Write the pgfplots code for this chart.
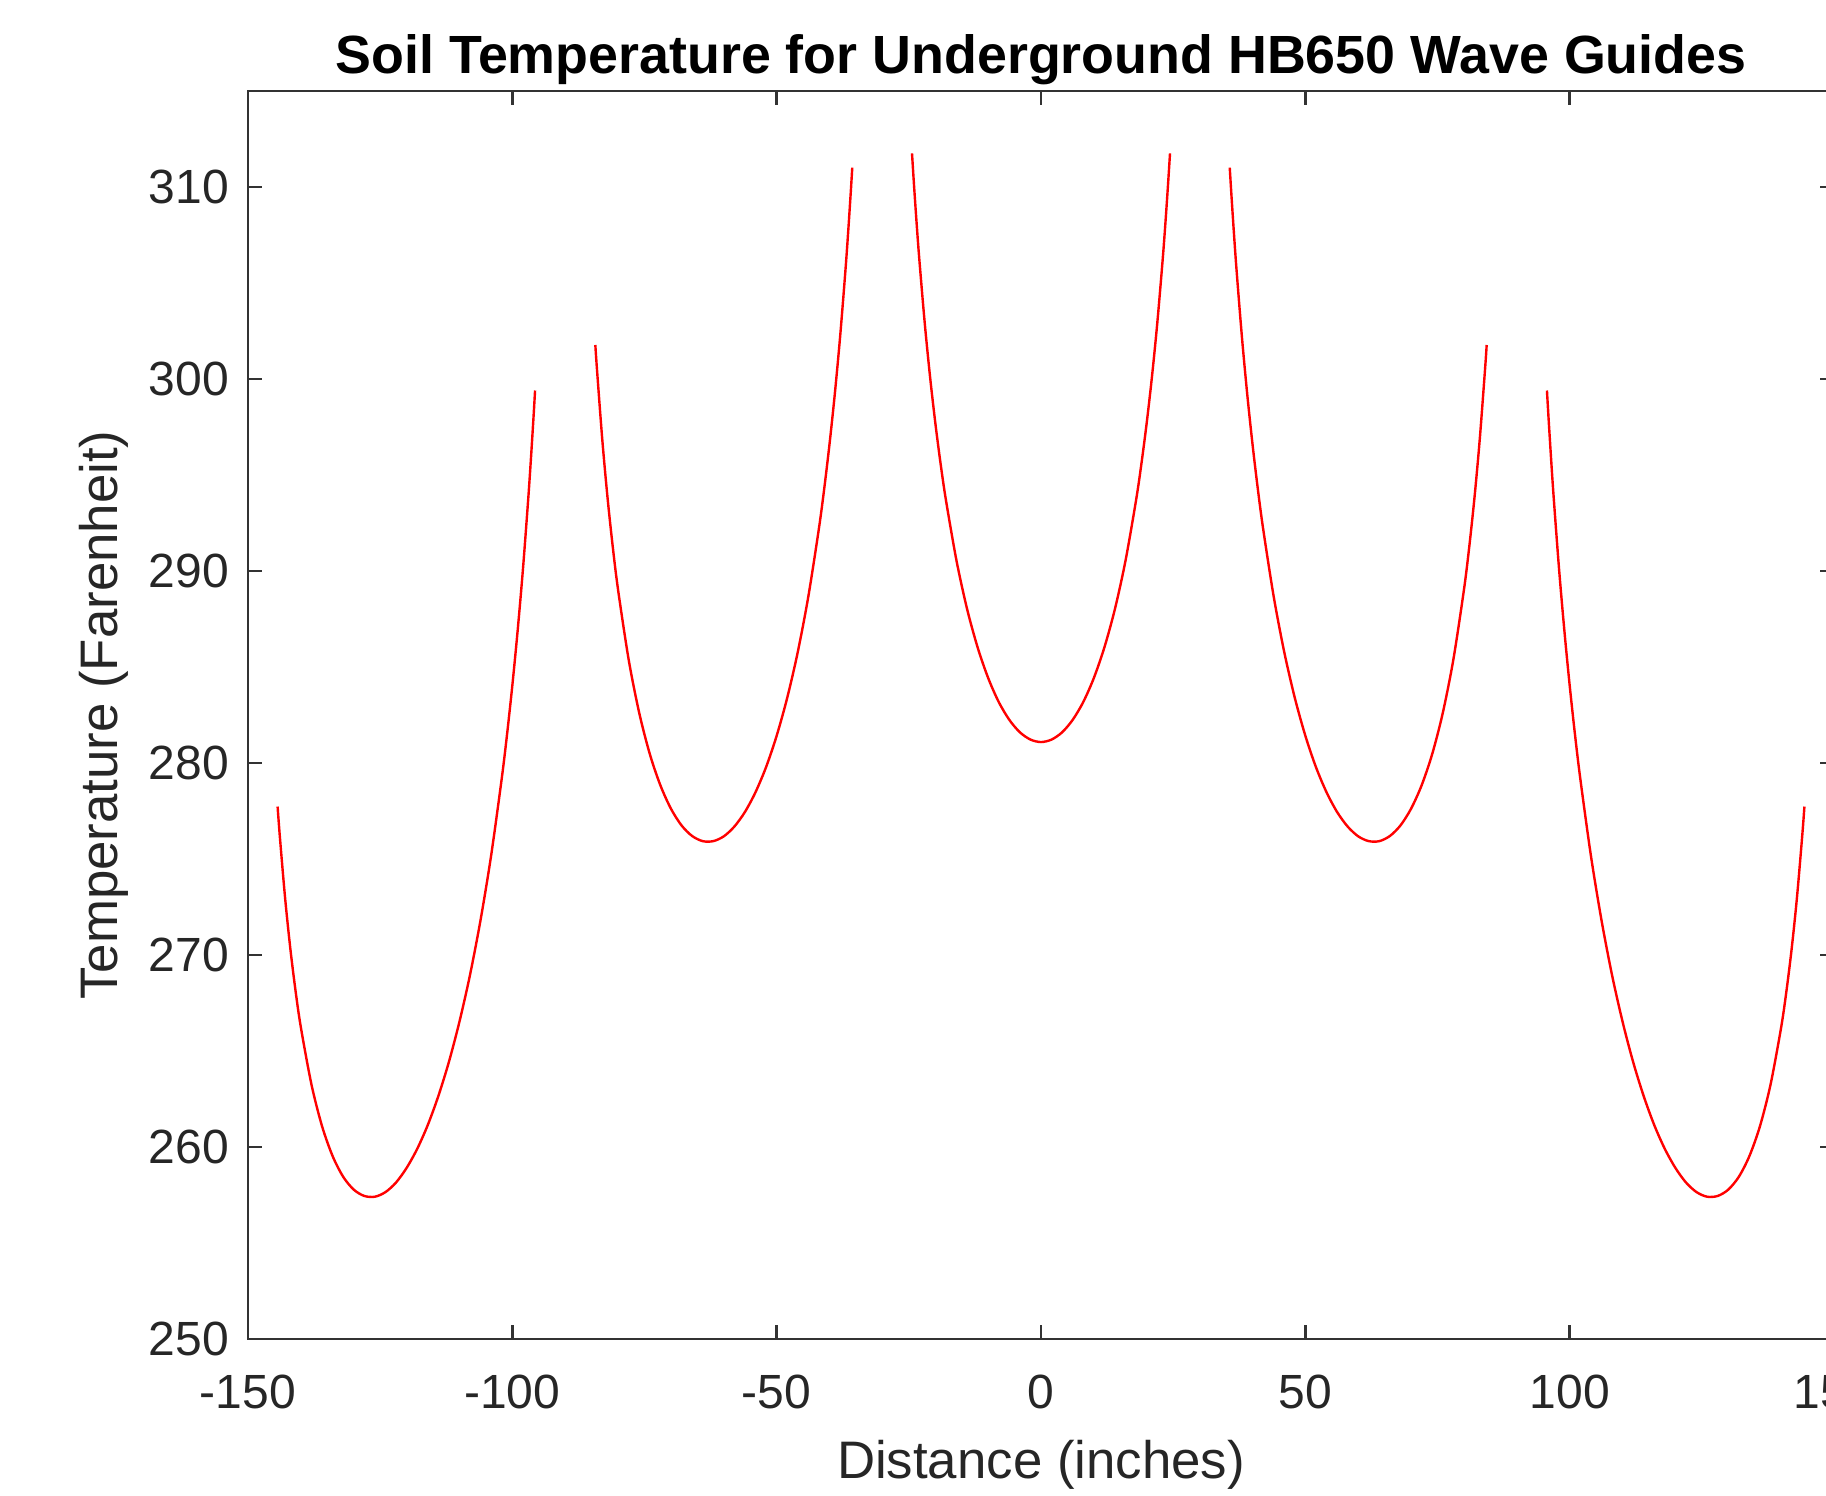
\documentclass[border=0pt]{standalone}
\usepackage{fontspec}
\setmainfont{Liberation Sans}
\usepackage{pgfplots}
\pgfplotsset{compat=1.18}
\usepackage{pgfplotstable}

% wave guide segments
\pgfplotstableread{
x y
-144.4 277.73
-144.0 276.25
-143.0 273.02
-142.0 270.35
-141.0 268.12
-140.0 266.23
-138.0 263.26
-136.0 261.09
-134.0 259.53
-132.0 258.45
-130.0 257.78
-128.0 257.45
-126.0 257.41
-124.0 257.65
-122.0 258.15
-120.0 258.91
-118.0 259.90
-116.0 261.14
-114.0 262.65
-112.0 264.43
-110.0 266.53
-108.0 268.97
-106.0 271.84
-104.0 275.20
-102.0 279.20
-101.0 281.49
-100.0 284.04
-99.0 286.88
-98.0 290.07
-97.0 293.73
-96.5 295.77
-96.0 297.98
-95.7 299.40
}\segA

\pgfplotstableread{
x y
-84.3 301.77
-84.0 300.54
-83.0 296.89
-82.0 293.84
-81.0 291.25
-80.0 289.02
-78.0 285.39
-76.0 282.61
-74.0 280.47
-72.0 278.84
-70.0 277.62
-68.0 276.75
-66.0 276.20
-64.0 275.93
-62.0 275.93
-60.0 276.18
-58.0 276.69
-56.0 277.45
-54.0 278.48
-52.0 279.79
-50.0 281.42
-48.0 283.40
-46.0 285.79
-44.0 288.69
-42.0 292.23
-41.0 294.30
-40.0 296.62
-39.0 299.23
-38.0 302.20
-37.0 305.63
-36.5 307.56
-36.0 309.66
-35.7 311.01
}\segB

\pgfplotstableread{
x y
-24.4 311.75
-24.0 310.01
-23.5 308.00
-23.0 306.17
-22.0 302.93
-21.0 300.15
-20.0 297.73
-19.0 295.60
-18.0 293.72
-16.0 290.56
-14.0 288.04
-12.0 286.03
-10.0 284.43
-8.0 283.18
-6.0 282.25
-4.0 281.60
-2.0 281.22
0.0 281.09
2.0 281.22
4.0 281.60
6.0 282.25
8.0 283.18
10.0 284.43
12.0 286.03
14.0 288.04
16.0 290.56
18.0 293.72
19.0 295.60
20.0 297.73
21.0 300.15
22.0 302.93
23.0 306.17
23.5 308.00
24.0 310.01
24.4 311.75
}\segC

\pgfplotstableread{
x y
35.7 311.01
36.0 309.66
36.5 307.56
37.0 305.63
38.0 302.20
39.0 299.23
40.0 296.62
41.0 294.30
42.0 292.23
44.0 288.69
46.0 285.79
48.0 283.40
50.0 281.42
52.0 279.79
54.0 278.48
56.0 277.45
58.0 276.69
60.0 276.18
62.0 275.93
64.0 275.93
66.0 276.20
68.0 276.75
70.0 277.62
72.0 278.84
74.0 280.47
76.0 282.61
78.0 285.39
80.0 289.02
81.0 291.25
82.0 293.84
83.0 296.89
84.0 300.54
84.3 301.77
}\segD

\pgfplotstableread{
x y
95.7 299.40
96.0 297.98
96.5 295.77
97.0 293.73
98.0 290.07
99.0 286.88
100.0 284.04
101.0 281.49
102.0 279.20
104.0 275.20
106.0 271.84
108.0 268.97
110.0 266.53
112.0 264.43
114.0 262.65
116.0 261.14
118.0 259.90
120.0 258.91
122.0 258.15
124.0 257.65
126.0 257.41
128.0 257.45
130.0 257.78
132.0 258.45
134.0 259.53
136.0 261.09
138.0 263.26
140.0 266.23
141.0 268.12
142.0 270.35
143.0 273.02
144.0 276.25
144.4 277.73
}\segE

\begin{document}
\begin{tikzpicture}
\begin{axis}[
    at={(0,0)}, anchor=south west,
    scale only axis,
    width=396.5pt, height=312pt,
    xmin=-150, xmax=150,
    ymin=250, ymax=315,
    xtick={-150,-100,-50,0,50,100,150},
    xticklabels={-150,-100,-50,0,50,100,150},
    ytick={250,260,270,280,290,300,310},
    yticklabels={250,260,270,280,290,300,310},
    tick align=inside,
    major tick length=3.5pt,
    axis line style={black!80, line width=0.6pt},
    every tick/.style={black!80, line width=0.6pt},
    tick label style={font=\fontsize{12}{14}\selectfont, text=black!85},
    xticklabel style={yshift=-5.4pt},
    yticklabel style={xshift=-1.25pt},
    xlabel={Distance (inches)},
    ylabel={Temperature (Farenheit)},
    title={Soil Temperature for Underground HB650 Wave Guides},
    every axis title shift=0pt,
    label style={font=\fontsize{13.2}{15}\selectfont, text=black!85},
    xlabel style={at={(axis description cs:0.5,-0.112)}, anchor=base},
    ylabel style={at={(axis description cs:-0.082,0.5)}, anchor=base},
    title style={at={(axis description cs:0.5,1.0139)}, anchor=base,
        font=\fontsize{13.45}{15}\selectfont\bfseries},
]
\addplot[red, line width=0.6pt, smooth] table {\segA};
\addplot[red, line width=0.6pt, smooth] table {\segB};
\addplot[red, line width=0.6pt, smooth] table {\segC};
\addplot[red, line width=0.6pt, smooth] table {\segD};
\addplot[red, line width=0.6pt, smooth] table {\segE};
\end{axis}
\pgfresetboundingbox
\path (-62pt,-39pt) rectangle (394.5pt,334.75pt);
\end{tikzpicture}
\end{document}
